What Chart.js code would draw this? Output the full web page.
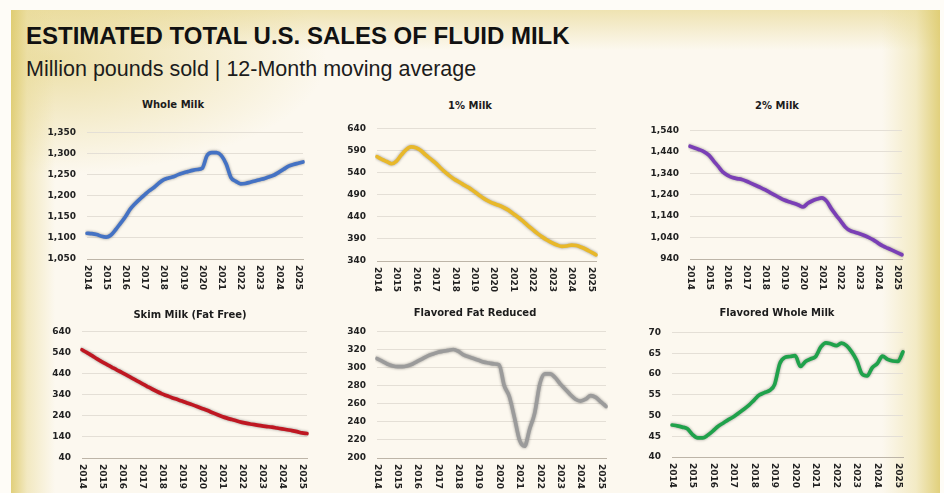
<!DOCTYPE html>
<html>
<head>
<meta charset="utf-8">
<script src="https://cdn.jsdelivr.net/npm/chart.js@4"></script>
<style>
  html, body { margin:0; padding:0; }
  body { width:944px; height:493px; overflow:hidden; background:#fefcf7; position:relative; font-family:"Liberation Sans", Arial, sans-serif; }
  #panel { position:absolute; left:11px; top:10px; width:929px; height:483px;
    background:
      linear-gradient(to right, rgba(222,203,110,0.9) 0px, rgba(234,220,155,0.55) 16px, rgba(250,245,230,0) 44px),
      linear-gradient(to left, rgba(222,204,112,0.9) 0px, rgba(234,221,155,0.5) 24px, rgba(250,245,230,0) 58px),
      linear-gradient(to bottom, rgba(228,210,128,0.55) 0px, rgba(250,245,230,0) 40px),
      radial-gradient(ellipse 30% 24% at 4% 10%, rgba(226,207,120,0.6), rgba(250,245,230,0)),
      #fcf8ef; }
  .main { position:absolute; left:26px; white-space:nowrap; color:#111; line-height:1; }
  #t1 { top:24px; font-size:24px; font-weight:bold; letter-spacing:0px; }
  #t2 { top:59px; font-size:21.5px; color:#1c1c1c; }
  .ct { position:absolute; font-family:"DejaVu Sans", sans-serif; font-weight:bold; font-size:10px; line-height:1; color:#1c1c1c; transform:translate(-50%,-50%); white-space:nowrap; }
  canvas { position:absolute; }
</style>
</head>
<body>
<div id="panel"></div>
<div class="main" id="t1">ESTIMATED TOTAL U.S. SALES OF FLUID MILK</div>
<div class="main" id="t2">Million pounds sold | 12-Month moving average</div>
<script>
// ---- data ----
const YEARS = ['2014','2015','2016','2017','2018','2019','2020','2021','2022','2023','2024','2025'];
const QUARTERS = YEARS.flatMap(y => ['Q1','Q2','Q3','Q4'].map(q => y + ' ' + q)).slice(0, 46);

const WHOLE = [1111,1110,1108,1104,1102,1107,1120,1135,1150,1168,1181,1192,1202,1212,1220,1230,1238,1242,1245,1250,1254,1257,1260,1262,1265,1295,1302,1302,1295,1275,1243,1234,1228,1229,1232,1235,1238,1241,1245,1249,1256,1263,1270,1274,1277,1280];
const ONE = [576,570,565,560,566,580,592,598,596,590,580,571,562,551,541,532,524,518,511,505,497,489,481,475,470,466,461,455,447,439,430,420,411,402,394,387,381,376,373,374,376,375,371,366,360,354];
const TWO = [1466,1458,1450,1440,1425,1398,1372,1345,1330,1320,1315,1311,1303,1293,1283,1273,1262,1250,1238,1226,1215,1207,1200,1192,1183,1200,1212,1220,1225,1210,1175,1145,1117,1088,1072,1065,1058,1050,1040,1028,1013,1000,990,980,970,960];
const SKIM = [553,539,525,510,496,483,470,457,445,432,419,406,393,380,367,355,344,335,326,318,310,301,293,284,275,266,256,246,237,229,222,215,209,204,200,196,192,189,186,182,178,174,170,165,159,156];
const FLAV_REDUCED = [310,307,304,302,301,301,302,304,307,310,313,315,317,318,319,320,318,314,312,310,308,306,305,304,303,280,268,245,220,213,232,250,282,293,293,289,282,276,270,265,263,265,269,267,262,257];
const FLAV_WHOLE = [47.7,47.5,47.2,46.8,45.4,44.6,44.6,45.3,46.3,47.4,48.2,49.0,49.7,50.6,51.5,52.5,53.7,54.9,55.5,56.0,57.5,62.5,64.0,64.2,64.4,61.8,63.0,63.6,64.2,66.5,67.5,67.2,66.8,67.4,66.8,65.3,63.2,60.0,59.5,61.5,62.5,64.3,63.5,63.1,63.0,65.3];

const WHOLE_TICKS = [1050,1100,1150,1200,1250,1300,1350];
const ONE_TICKS = [340,390,440,490,540,590,640];
const TWO_TICKS = [940,1040,1140,1240,1340,1440,1540];
const SKIM_TICKS = [40,140,240,340,440,540,640];
const FLAV_REDUCED_TICKS = [200,220,240,260,280,300,320,340];
const FLAV_WHOLE_TICKS = [40,45,50,55,60,65,70];

const TITLES = ['Whole Milk','1% Milk','2% Milk','Skim Milk (Fat Free)','Flavored Fat Reduced','Flavored Whole Milk'];

// ---- layout / style ----
const PANELS = [
  {data:WHOLE, ticks:WHOLE_TICKS, color:'#4472c4', box:[87,126,303,259], title:[173,105]},
  {data:ONE, ticks:ONE_TICKS, color:'#e8b82a', box:[377,122,596,261], title:[470,106]},
  {data:TWO, ticks:TWO_TICKS, color:'#7a3fb6', box:[690,124,902,259], title:[777,106]},
  {data:SKIM, ticks:SKIM_TICKS, color:'#bf1722', box:[82,325,307,458], title:[190,315]},
  {data:FLAV_REDUCED, ticks:FLAV_REDUCED_TICKS, color:'#9b9b9b', box:[377,325,606,458], title:[475,313]},
  {data:FLAV_WHOLE, ticks:FLAV_WHOLE_TICKS, color:'#1fa24b', box:[672,326,903,457], title:[777,313]}
];
const YW = 48, PT = 10, PR = 6, XH = 36;

const xLabelPlugin = {
  id: 'xLabels',
  afterDraw(chart) {
    const ctx = chart.ctx, xs = chart.scales.x, area = chart.chartArea;
    ctx.save();
    ctx.font = 'bold 9px "DejaVu Sans", sans-serif';
    ctx.fillStyle = '#222';
    ctx.textAlign = 'left';
    ctx.textBaseline = 'middle';
    QUARTERS.forEach((q, i) => {
      if (q.endsWith('Q1')) {
        const x = xs.getPixelForValue(i);
        ctx.save();
        ctx.translate(x, area.bottom + 6);
        ctx.rotate(Math.PI / 2);
        ctx.fillText(q.slice(0, 4), 0, 0);
        ctx.restore();
      }
    });
    ctx.restore();
  }
};
const shadowPlugin = {
  id: 'lineShadow',
  beforeDatasetsDraw(chart) {
    const ctx = chart.ctx;
    ctx.save();
    ctx.shadowColor = 'rgba(0,0,0,0.4)';
    ctx.shadowBlur = 3;
  },
  afterDatasetsDraw(chart) { chart.ctx.restore(); }
};

PANELS.forEach((p, k) => {
  const [l, t, r, b] = p.box;
  const cv = document.createElement('canvas');
  const w = (r - l) + YW + PR, h = (b - t) + PT + XH;
  cv.width = w; cv.height = h;
  cv.style.left = (l - YW) + 'px'; cv.style.top = (t - PT) + 'px';
  cv.style.width = w + 'px'; cv.style.height = h + 'px';
  document.body.appendChild(cv);

  const tl = document.createElement('div');
  tl.className = 'ct';
  tl.textContent = TITLES[k];
  tl.style.left = p.title[0] + 'px'; tl.style.top = p.title[1] + 'px';
  document.body.appendChild(tl);

  new Chart(cv, {
    type: 'line',
    data: { labels: QUARTERS, datasets: [{
      data: p.data, borderColor: p.color, borderWidth: 3.7, pointRadius: 0,
      cubicInterpolationMode: 'monotone', fill: false, borderCapStyle: 'round', borderJoinStyle: 'round'
    }]},
    options: {
      responsive: false, animation: false, devicePixelRatio: 1,
      layout: { padding: { top: PT, right: PR, left: 0, bottom: 0 } },
      plugins: { legend: { display: false }, tooltip: { enabled: false }, title: { display: false } },
      scales: {
        x: {
          type: 'category', offset: false,
          ticks: { display: false },
          grid: { display: false },
          border: { display: true, color: '#bdb5a8', dash: [2, 2], width: 1 },
          afterFit(s) { s.height = XH; }
        },
        y: {
          min: p.ticks[0], max: p.ticks[p.ticks.length - 1],
          afterBuildTicks(s) { s.ticks = p.ticks.map(v => ({ value: v })); },
          ticks: {
            padding: 11, color: '#222',
            font: { family: '"DejaVu Sans", sans-serif', weight: 'bold', size: 9 },
            callback: v => Number(v).toLocaleString('en-US')
          },
          grid: { drawTicks: false, lineWidth: 1, color: c => c.index === 0 ? 'rgba(0,0,0,0)' : '#e4dfd6' },
          border: { display: false },
          afterFit(s) { s.width = YW; }
        }
      }
    },
    plugins: [xLabelPlugin, shadowPlugin]
  });
});
</script>
</body>
</html>
